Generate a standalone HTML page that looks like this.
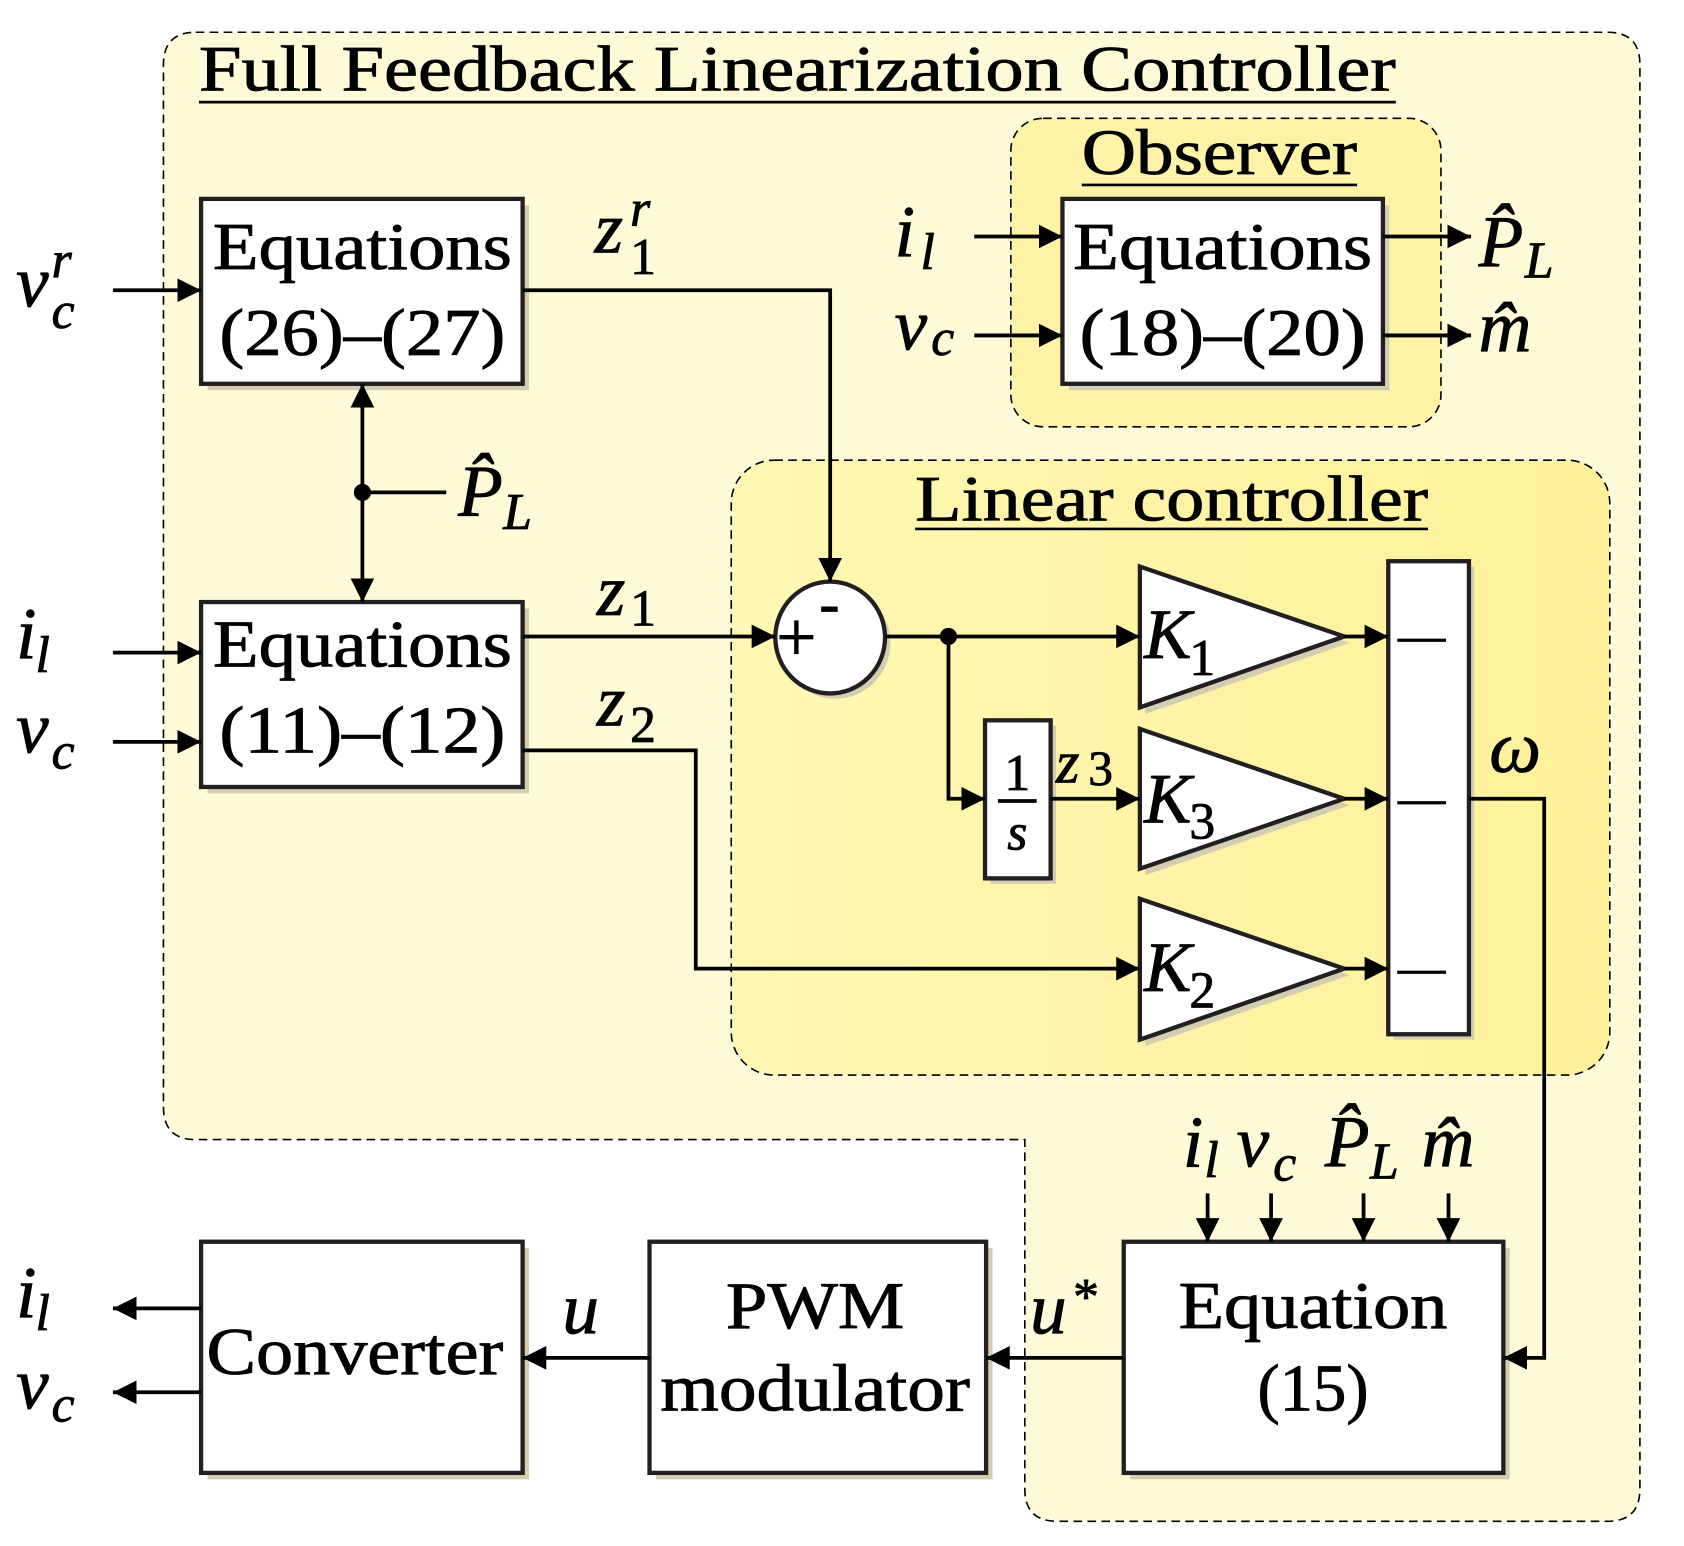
<!DOCTYPE html>
<html><head><meta charset="utf-8"><style>
html,body{margin:0;padding:0;background:#fff}
svg{display:block}
text{font-family:"Liberation Serif",serif;fill:#000;stroke:#000;stroke-width:0.8}
.it{font-style:italic}
</style></head><body>
<svg width="1684" height="1546" viewBox="0 0 1566 1438" preserveAspectRatio="none" xmlns="http://www.w3.org/2000/svg">
<defs>
<marker id="ar" viewBox="0 0 10 10" refX="10" refY="5" markerWidth="22" markerHeight="22" markerUnits="userSpaceOnUse" orient="auto"><path d="M0,0 L10,5 L0,10 z"/></marker>
<linearGradient id="lg" x1="0" y1="0" x2="1" y2="0"><stop offset="0" stop-color="#fff7b4"/><stop offset="1" stop-color="#fff19a"/></linearGradient>
</defs>
<path d="M182,30 H1495 Q1525,30 1525,60 V1385 Q1525,1415 1495,1415 H983 Q953,1415 953,1385 V1060 H182 Q152,1060 152,1030 V60 Q152,30 182,30 Z" fill="#fffbd8" stroke="#000" stroke-width="1.5" stroke-dasharray="8,5"/>
<rect x="940" y="110" width="400" height="287" rx="30" fill="#fff3a8" stroke="#000" stroke-width="1.5" stroke-dasharray="8,5"/>
<rect x="680" y="428" width="817" height="572" rx="40" fill="url(#lg)" stroke="#000" stroke-width="1.5" stroke-dasharray="8,5"/>
<text x="185" y="84" font-size="60" textLength="1113" lengthAdjust="spacingAndGlyphs">Full Feedback Linearization Controller</text>
<line x1="185" y1="95" x2="1298" y2="95" stroke="#000" stroke-width="2.5"/>
<text x="1006" y="162" font-size="60" textLength="256" lengthAdjust="spacingAndGlyphs">Observer</text>
<line x1="1006" y1="172" x2="1262" y2="172" stroke="#000" stroke-width="2.5"/>
<text x="851" y="484" font-size="60" textLength="477" lengthAdjust="spacingAndGlyphs">Linear controller</text>
<line x1="851" y1="492" x2="1328" y2="492" stroke="#000" stroke-width="2.5"/>
<g fill="#d3cdb2">
<rect x="193" y="191" width="299" height="172"/><rect x="193" y="566" width="299" height="172"/>
<rect x="994" y="191" width="298" height="172"/><rect x="193" y="1161" width="299" height="215"/>
<rect x="610" y="1161" width="313" height="215"/><rect x="1051" y="1161" width="353" height="215"/>
<rect x="921" y="675" width="61" height="147"/><ellipse cx="777" cy="598" rx="51" ry="52"/>
<path d="M1065,533 L1255,598 L1065,664Z M1065,684 L1255,749 L1065,814Z M1065,842 L1255,907 L1065,973Z"/>
<rect x="1296" y="527" width="75" height="440"/>
</g>
<g fill="#fff" stroke="#231f20" stroke-width="4">
<rect x="187" y="185" width="299" height="172"/><rect x="187" y="560" width="299" height="172"/>
<rect x="988" y="185" width="298" height="172"/><rect x="187" y="1155" width="299" height="215"/>
<rect x="604" y="1155" width="313" height="215"/><rect x="1045" y="1155" width="353" height="215"/>
<rect x="916" y="670" width="61" height="147"/><ellipse cx="772" cy="593" rx="51" ry="52"/>
<path d="M1060,527 L1250,592 L1060,658Z M1060,678 L1250,743 L1060,808Z M1060,836 L1250,901 L1060,967Z"/>
<rect x="1291" y="522" width="75" height="440"/>
</g>
<g font-size="62" text-anchor="middle">
<text x="337" y="250" textLength="278" lengthAdjust="spacingAndGlyphs">Equations</text><text x="337" y="330" textLength="266" lengthAdjust="spacingAndGlyphs">(26)–(27)</text>
<text x="337" y="620" textLength="278" lengthAdjust="spacingAndGlyphs">Equations</text><text x="337" y="700" textLength="266" lengthAdjust="spacingAndGlyphs">(11)–(12)</text>
<text x="1137" y="250" textLength="278" lengthAdjust="spacingAndGlyphs">Equations</text><text x="1137" y="330" textLength="266" lengthAdjust="spacingAndGlyphs">(18)–(20)</text>
<text x="330" y="1278" textLength="276" lengthAdjust="spacingAndGlyphs">Converter</text>
<text x="758" y="1235" textLength="166" lengthAdjust="spacingAndGlyphs">PWM</text><text x="758" y="1312" textLength="288" lengthAdjust="spacingAndGlyphs">modulator</text>
<text x="1221" y="1235" textLength="250" lengthAdjust="spacingAndGlyphs">Equation</text><text x="1221" y="1312">(15)</text>
<text x="946" y="735" font-size="48">1</text><text x="946" y="790" font-size="48" class="it">s</text>
</g>
<line x1="928" y1="745" x2="964" y2="745" stroke="#000" stroke-width="3.5"/>
<text x="722" y="615" font-size="66">+</text><text x="762" y="580" font-size="56">-</text>
<g font-size="66" class="it">
<text x="1064" y="612">K</text><text x="1106" y="628" font-size="48" font-style="normal">1</text>
<text x="1064" y="765">K</text><text x="1106" y="780" font-size="48" font-style="normal">3</text>
<text x="1064" y="922">K</text><text x="1106" y="937" font-size="48" font-style="normal">2</text>
</g>
<g font-size="44"><text x="1300" y="606">—</text><text x="1300" y="757">—</text><text x="1300" y="915">—</text></g>
<g stroke="#000" stroke-width="3.5" fill="none" marker-end="url(#ar)">
<path d="M105,270 H187"/><path d="M105,607 H187"/><path d="M105,690 H187"/>
<path d="M486,270 H772 V541"/><path d="M486,592 H721"/>
<path d="M823,592 H1060"/><path d="M882,592 V743 H916"/><path d="M977,743 H1060"/>
<path d="M486,698 H647 V901 H1060"/>
<path d="M1250,592 H1291"/><path d="M1250,743 H1291"/><path d="M1250,901 H1291"/>
<path d="M1366,743 H1436 V1263 H1398"/>
<path d="M906,220 H988"/><path d="M906,312 H988"/>
<path d="M1286,220 H1368"/><path d="M1286,312 H1368"/>
<path d="M337,460 V357"/><path d="M337,460 V560"/>
<path d="M1045,1263 H917"/><path d="M604,1263 H486"/>
<path d="M187,1217 H105"/><path d="M187,1295 H105"/>
<path d="M1123,1110 V1155"/><path d="M1182,1110 V1155"/><path d="M1268,1110 V1155"/><path d="M1347,1110 V1155"/>
</g>
<line x1="337" y1="458" x2="415" y2="458" stroke="#000" stroke-width="3.5"/>
<circle cx="337" cy="458" r="8"/><circle cx="882" cy="592" r="8"/>
<g font-size="68" class="it">
<text x="15" y="285">v</text><text x="48" y="258" font-size="48">r</text><text x="48" y="305" font-size="48">c</text>
<text x="553" y="235">z</text><text x="586" y="210" font-size="48">r</text><text x="586" y="255" font-size="48" font-style="normal">1</text>
<text x="426" y="480">P̂</text><text x="468" y="492" font-size="48">L</text>
<text x="15" y="612">i</text><text x="33" y="625" font-size="48">l</text>
<text x="15" y="700">v</text><text x="48" y="715" font-size="48">c</text>
<text x="555" y="572">z</text><text x="586" y="582" font-size="48" font-style="normal">1</text>
<text x="555" y="675">z</text><text x="586" y="690" font-size="48" font-style="normal">2</text>
<text x="982" y="728" font-size="56">z</text><text x="1012" y="730" font-size="46" font-style="normal">3</text>
<text x="832" y="238">i</text><text x="856" y="250" font-size="48">l</text>
<text x="832" y="325">v</text><text x="866" y="330" font-size="48">c</text>
<text x="1375" y="248">P̂</text><text x="1418" y="258" font-size="48">L</text>
<text x="1375" y="327">m̂</text>
<text x="1385" y="718">ω</text>
<text x="1100" y="1085">i</text><text x="1120" y="1095" font-size="48">l</text>
<text x="1150" y="1085">v</text><text x="1184" y="1098" font-size="48">c</text>
<text x="1232" y="1085">P̂</text><text x="1274" y="1096" font-size="48">L</text>
<text x="1322" y="1085">m̂</text>
<text x="958" y="1240">u</text><text x="998" y="1222" font-size="48" font-style="normal">*</text>
<text x="523" y="1240">u</text>
<text x="15" y="1225">i</text><text x="33" y="1237" font-size="48">l</text>
<text x="15" y="1310">v</text><text x="48" y="1322" font-size="48">c</text>
</g>
</svg>
</body></html>
